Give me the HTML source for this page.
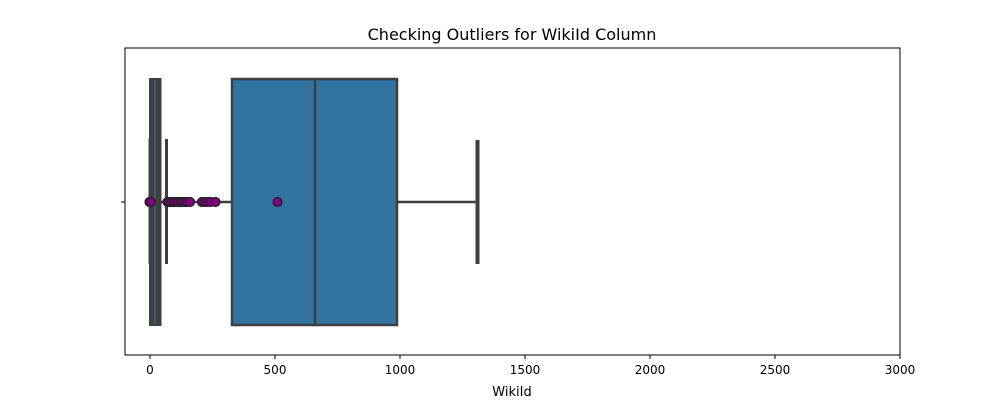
<!DOCTYPE html>
<html><head><meta charset="utf-8"><style>body{margin:0;background:#fff}svg text{font-family:"DejaVu Sans","Liberation Sans",sans-serif;}</style></head>
<body>
<svg id="c" width="1000" height="400"></svg>
<script>
const xTicks=[0,500,1000,1500,2000,2500,3000];
const mainBox={q1:328,median:660,q3:988,low:0,high:1310,mean:510};
const smallBox={q1:0,median:20,q3:42,low:-4,high:66};
const outliers=[-2,4,70,78,86,95,104,113,122,131,140,150,160,208,218,230,242,262];
const NS='http://www.w3.org/2000/svg';
const svg=document.getElementById('c');
const L=125,R=900,T=48,B=355,xMin=-100,xMax=3000,cy=202;
const x=v=>L+(v-xMin)/(xMax-xMin)*(R-L);
function mk(t,a,name,txt){const e=document.createElementNS(NS,t);for(const k in a)e.setAttribute(k,a[k]);


if(txt!==undefined)e.textContent=txt;svg.appendChild(e);return e;}
mk('text',{x:512,y:40,'text-anchor':'middle','font-size':16},'chart-title','Checking Outliers for WikiId Column');
// main box
const b=mainBox;
mk('line',{x1:x(b.low),x2:x(b.q1),y1:cy,y2:cy,stroke:'#3f3f3f','stroke-width':2.5},'main-lower-whisker');
mk('line',{x1:x(b.q3),x2:x(b.high),y1:cy,y2:cy,stroke:'#3f3f3f','stroke-width':2.5},'main-upper-whisker');
mk('line',{x1:x(b.high),x2:x(b.high),y1:140,y2:264,stroke:'#3f3f3f','stroke-width':4},'main-upper-cap');
mk('rect',{x:x(b.q1),y:79,width:x(b.q3)-x(b.q1),height:246,fill:'#3274a1',stroke:'#3f3f3f','stroke-width':2.5},'main-box');
mk('line',{x1:x(b.median),x2:x(b.median),y1:79,y2:325,stroke:'#3f3f3f','stroke-width':2.5},'main-median');
// small box
const s=smallBox;
mk('rect',{x:x(s.q1),y:79,width:x(s.q3)-x(s.q1),height:246,fill:'#3f3f3f',stroke:'#3f3f3f','stroke-width':2},'small-box');
mk('line',{x1:x(s.median),x2:x(s.median),y1:80,y2:324,stroke:'#3274a1','stroke-width':1},'small-median');
mk('line',{x1:x(s.high),x2:x(s.high),y1:139,y2:264,stroke:'#3f3f3f','stroke-width':3},'small-upper-cap');
mk('line',{x1:x(s.low),x2:x(s.low),y1:139,y2:264,stroke:'#3f3f3f','stroke-width':1},'small-lower-cap');
outliers.forEach(v=>mk('circle',{cx:x(v),cy:cy,r:4.5,fill:'#800080',stroke:'#222','stroke-width':1.2},'outlier-point'));
mk('circle',{cx:x(b.mean),cy:cy,r:4.5,fill:'#800080',stroke:'#222','stroke-width':1.2},'mean-point');
// axes
mk('rect',{x:L,y:T,width:R-L,height:B-T,fill:'none',stroke:'#000','stroke-width':1},'plot-frame');
mk('line',{x1:L-4,x2:L,y1:cy,y2:cy,stroke:'#000'},'y-tick');
xTicks.forEach(v=>{mk('line',{x1:x(v),x2:x(v),y1:B,y2:B+4,stroke:'#000'},'x-tick');
mk('text',{x:x(v),y:374,'text-anchor':'middle','font-size':12},'x-tick-label',v);});
mk('text',{x:512,y:396,'text-anchor':'middle','font-size':13},'x-axis-title','WikiId');
</script>
</body></html>
